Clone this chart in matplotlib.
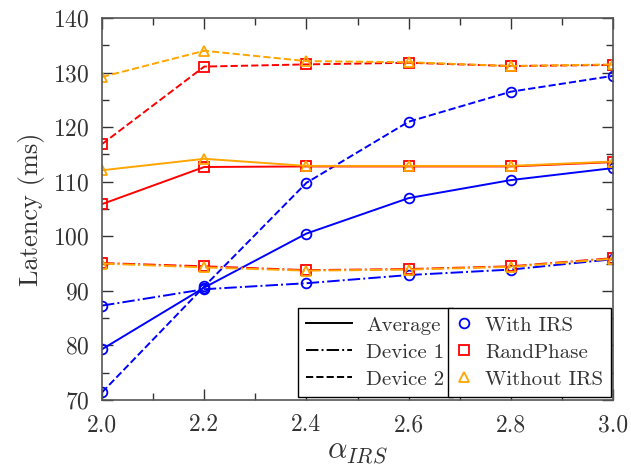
import matplotlib
matplotlib.use("Agg")
import matplotlib.pyplot as plt
from matplotlib.lines import Line2D
from matplotlib.ticker import MultipleLocator

plt.rcParams['font.family'] = 'cmr10'
plt.rcParams['mathtext.fontset'] = 'cm'
plt.rcParams['axes.formatter.use_mathtext'] = True

alpha = [2.0, 2.2, 2.4, 2.6, 2.8, 3.0]

# With IRS
irs_avg = [79.3, 90.6, 100.5, 107.0, 110.3, 112.5]
irs_dev1 = [87.3, 90.3, 91.4, 92.9, 93.9, 95.8]
irs_dev2 = [71.4, 90.8, 109.8, 121.0, 126.5, 129.4]

# RandPhase
rp_avg = [105.9, 112.7, 112.8, 112.8, 112.8, 113.6]
rp_dev1 = [95.1, 94.5, 93.8, 94.0, 94.5, 96.0]
rp_dev2 = [116.9, 131.1, 131.5, 131.8, 131.2, 131.4]

# Without IRS
wo_avg = [112.1, 114.2, 112.9, 112.9, 112.9, 113.7]
wo_dev1 = [95.0, 94.3, 93.7, 93.9, 94.4, 95.9]
wo_dev2 = [129.2, 134.0, 132.1, 131.9, 131.2, 131.5]

fig = plt.figure(figsize=(6.31, 4.68), dpi=100)
ax = fig.add_axes([0.1617, 0.1453, 0.8098, 0.8162])

groups = [
    ('#0000ff', 'o', irs_avg, irs_dev1, irs_dev2),
    ('#ff0000', 's', rp_avg, rp_dev1, rp_dev2),
    ('#ffa500', '^', wo_avg, wo_dev1, wo_dev2),
]
for color, mk, avg, d1, d2 in groups:
    for vals, ls in [(avg, '-'), (d1, '-.'), (d2, '--')]:
        ax.plot(alpha, vals, ls=ls, color=color, marker=mk, markersize=7,
                markerfacecolor='none', markeredgewidth=1.3, linewidth=1.4)

ax.set_xlim(2.0, 3.0)
ax.set_ylim(70, 140)
ax.xaxis.set_major_locator(MultipleLocator(0.2))
ax.xaxis.set_minor_locator(MultipleLocator(0.1))
ax.yaxis.set_major_locator(MultipleLocator(10))
ax.yaxis.set_minor_locator(MultipleLocator(5))
ax.set_xticklabels(['%.1f' % v for v in ax.get_xticks()])
ax.tick_params(which='both', direction='in', top=True, right=True,
               labelsize=17, colors='#333333', labelcolor='#333333')
ax.tick_params(which='major', length=8, width=1)
ax.tick_params(which='minor', length=5, width=1)
ax.tick_params(axis='x', pad=10)
ax.tick_params(axis='y', pad=9)
for sp in ax.spines.values():
    sp.set_color('#555555')
    sp.set_linewidth(1.2)

ax.set_xlabel(r'$\alpha_{IRS}$', fontsize=22, color='#333333', labelpad=2)
ax.set_ylabel('Latency (ms)', fontsize=19, color='#333333', labelpad=6)

style_handles = [
    Line2D([], [], color='black', ls='-', lw=1.4),
    Line2D([], [], color='black', ls='-.', lw=1.4),
    Line2D([], [], color='black', ls='--', lw=1.4),
]
leg1 = ax.legend(style_handles, ['Average', 'Device 1', 'Device 2'],
                 loc='lower left', bbox_to_anchor=(0.383, 0.008),
                 fontsize=15, fancybox=False, framealpha=1, edgecolor='black',
                 handlelength=2.2, handletextpad=0.7, borderpad=0.4,
                 labelspacing=0.4, borderaxespad=0)
leg1.get_frame().set_linewidth(1.0)
for t in leg1.get_texts():
    t.set_color('#333333')
ax.add_artist(leg1)

mk_handles = [
    Line2D([], [], color='#0000ff', marker='o', ls='none', markersize=7,
           markerfacecolor='none', markeredgewidth=1.3),
    Line2D([], [], color='#ff0000', marker='s', ls='none', markersize=7,
           markerfacecolor='none', markeredgewidth=1.3),
    Line2D([], [], color='#ffa500', marker='^', ls='none', markersize=7,
           markerfacecolor='none', markeredgewidth=1.3),
]
leg2 = ax.legend(mk_handles, ['With IRS', 'RandPhase', 'Without IRS'],
                 loc='lower right', bbox_to_anchor=(0.997, 0.008),
                 fontsize=15, fancybox=False, framealpha=1, edgecolor='black',
                 handlelength=0.8, handletextpad=0.6, borderpad=0.4,
                 labelspacing=0.4, borderaxespad=0)
leg2.get_frame().set_linewidth(1.0)
for t in leg2.get_texts():
    t.set_color('#333333')

fig.savefig('out.png', dpi=100)
